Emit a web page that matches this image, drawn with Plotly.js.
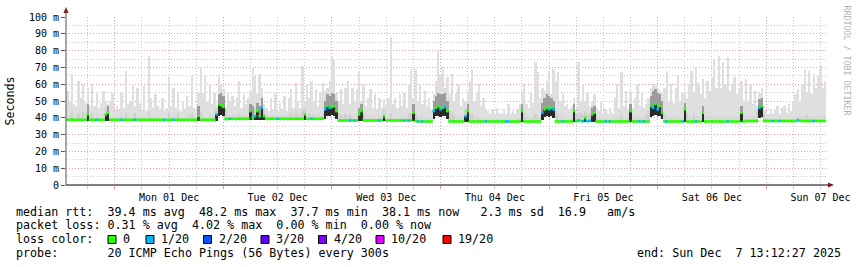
<!DOCTYPE html>
<html><head><meta charset="utf-8">
<script src="https://cdn.plot.ly/plotly-3.0.1.min.js"></script>
<style>html,body{margin:0;padding:0;background:#fff}#chart{width:857px;height:267px}</style>
</head><body><div id="chart"></div>
<script>
// ---- time base (30-minute samples) ----
const firstSampleUTC = [2025, 10, 30, 13, 30]; // 2025-11-30 13:30
const stepMinutes = 30;
const rangeStart = '2025-11-30 13:12:27';
const rangeEnd = '2025-12-07 13:12:27';

// ---- median RTT (ms) ----
const medianRtt = [
38.8,38.8,38.8,38.8,38.8,38.8,38.8,38.8,38.8,42,38.8,38.8,
38.8,38.8,38.8,38.8,38.8,42,43,38.8,38.8,38.8,38.8,38.8,
38.8,38.8,38.8,38.8,38.8,38.8,38.8,38.8,38.8,38.8,38.8,38.8,
38.8,38.8,38.8,38.8,38.8,38.8,38.8,38.8,38.8,38.8,38.8,38.8,
38.8,38.8,38.8,38.8,38.8,38.8,38.8,38.8,38.8,38.8,41,38.8,
38.8,38.8,38.8,38.8,38.8,38.8,42,48,47.5,46.5,39.2,39.4,
39.4,39.4,39.4,39.4,39.4,39.4,39.4,39.4,39.4,44,40,41,
44,41,46,41,39.4,39.4,39.4,39.4,39.4,39.4,39.4,39.4,
39.4,39.4,39.4,39.4,39.4,39.4,39.4,39.4,39.4,42,39.4,39.4,
39.4,39.4,39.4,39.4,39.4,39.4,45,47,46,46.5,47,44,
38.4,38.4,38.4,38.4,38.4,38.4,38.4,38.4,38.4,42,44,38.4,
38.4,38.4,38.4,38.4,38.4,38.4,38.4,38.4,41,38.4,38.4,38.4,
38.4,38.4,38.4,38.4,38.4,38.4,38.4,38.4,38.4,43,38.1,37.8,
37.8,37.8,37.8,37.8,37.8,37.8,44,46,47,45,46,46.5,
44,37.8,37.8,37.8,37.8,37.8,37.8,37.8,41,44,37.8,37.8,
37.8,37.8,37.8,37.8,37.8,37.8,37.8,37.8,37.8,37.8,37.8,37.8,
37.8,37.8,37.8,37.8,37.8,37.8,37.8,37.8,37.8,44,37.8,37.8,
37.8,37.8,37.8,37.8,37.8,37.8,43,45,46,45,46,45,
37.8,37.8,37.8,37.8,37.8,37.8,37.8,37.8,44,38,38.4,38,
38,40,38,38.2,42,43,37.8,37.8,37.8,37.8,37.8,37.8,
37.8,37.8,37.8,37.8,37.8,37.8,37.8,37.8,37.8,44,37.8,37.8,
37.8,37.8,37.8,37.8,37.8,37.8,47,46,48.2,45,47,43,
37.8,37.8,37.8,37.8,37.8,37.8,37.8,37.8,37.8,45,37.8,37.8,
37.8,37.8,37.8,37.8,37.8,43,37.8,37.8,37.8,37.8,37.8,37.8,
37.8,37.8,37.8,37.8,37.8,37.8,37.8,37.8,37.8,37.8,43,37.8,
38.1,38.1,38.1,38.1,38.1,38.1,46,47,38.1,38.1,38.1,38.1,
38.1,38.1,38.1,38.1,38.1,38.1,38.1,38.1,38.1,38.1,38.1,38.6,
38.1,38.1,38.1,38.1,38.1,38.1,38.1,38.1,38.1,38.1,38.1,38.1
];

// ---- lowest ping of each sample (ms) ----
const rttMin = [
38.3,38.3,38.3,38.3,38.3,38.3,38.3,38.3,38.3,38.3,38.3,38.3,
38.3,38.3,38.3,38.3,38.3,38.3,38.3,38.3,38.3,38.3,38.3,38.3,
38.3,38.3,38.3,38.3,38.3,38.3,38.3,38.3,38.3,38.3,38.3,38.3,
38.3,38.3,38.3,38.3,38.3,38.3,38.3,38.3,38.3,38.3,38.3,38.3,
38.3,38.3,38.3,38.3,38.3,38.3,38.3,38.3,38.3,38.3,38.3,38.3,
38.3,38.3,38.3,38.3,38.3,38.3,38.3,41,41.5,41,38.5,38.9,
38.9,38.9,38.9,38.9,38.9,38.9,38.9,38.9,38.9,38.9,38.9,38.9,
38.9,38.9,38.9,38.9,38.9,38.9,38.9,38.9,38.9,38.9,38.9,38.9,
38.9,38.9,38.9,38.9,38.9,38.9,38.9,38.9,38.9,38.9,38.9,38.9,
38.9,38.9,38.9,38.9,38.9,38.9,39.5,41,41,41.5,41,39,
37.9,37.9,37.9,37.9,37.9,37.9,37.9,37.9,37.9,37.9,37.9,37.9,
37.9,37.9,37.9,37.9,37.9,37.9,37.9,37.9,37.9,37.9,37.9,37.9,
37.9,37.9,37.9,37.9,37.9,37.9,37.9,37.9,37.9,37.9,37.6,37.3,
37.3,37.3,37.3,37.3,37.3,37.3,39,41,41,40.5,41,41,
39,37.3,37.3,37.3,37.3,37.3,37.3,37.3,37.3,37.3,37.3,37.3,
37.3,37.3,37.3,37.3,37.3,37.3,37.3,37.3,37.3,37.3,37.3,37.3,
37.3,37.3,37.3,37.3,37.3,37.3,37.3,37.3,37.3,37.3,37.3,37.3,
37.3,37.3,37.3,37.3,37.3,37.3,38.5,40.5,41,40.5,41,40,
37.3,37.3,37.3,37.3,37.3,37.3,37.3,37.3,37.3,37.3,37.3,37.3,
37.3,37.3,37.3,37.3,37.3,37.3,37.3,37.3,37.3,37.3,37.3,37.3,
37.3,37.3,37.3,37.3,37.3,37.3,37.3,37.3,37.3,37.3,37.3,37.3,
37.3,37.3,37.3,37.3,37.3,37.3,40.5,41,41.5,41,41,39,
37.3,37.3,37.3,37.3,37.3,37.3,37.3,37.3,37.3,37.3,37.3,37.3,
37.3,37.3,37.3,37.3,37.3,37.3,37.3,37.3,37.3,37.3,37.3,37.3,
37.3,37.3,37.3,37.3,37.3,37.3,37.3,37.3,37.3,37.3,37.3,37.3,
37.6,37.6,37.6,37.6,37.6,37.6,40,40.5,37.6,37.6,37.6,37.6,
37.6,37.6,37.6,37.6,37.6,37.6,37.6,37.6,37.6,37.6,37.6,37.6,
37.6,37.6,37.6,37.6,37.6,37.6,37.6,37.6,37.6,37.6,37.6,37.6
];

// ---- dense-smoke upper edge (ms) ----
const rttMid = [
41,42,44,41,40,43,42,44,41,48,42,43,
41,42,41,40,42,46,47,41,40,41,40,40,
41,40,43,41,40,42,43,41,42,40,41,40,
44,41,40,40,41,40,40,40,40,43,41,40,
41,43,40,40,40,41,42,43,41,40,47,44,
42,41,40,42,41,41,46,54,55,53,45,42,
42,41,42,41,43,42,41,42,41,48,47,46,
49,47,52,46,42,41,41,42,41,41,41,41,
42,41,42,43,42,44,42,42,45,46,42,43,
42,42,41,42,41,43,50,54,53,55,54,50,
43,42,41,42,41,42,41,40,41,46,48,42,
41,40,41,40,41,40,41,40,45,41,40,43,
40,40,40,41,40,41,41,43,43,48,42,41,
41,40,40,40,40,41,50,53,55,54,54,55,
50,44,43,42,41,41,40,41,45,48,43,42,
41,41,40,40,39,39,39,39,39,39,39,39,
39,39,39,39,39,39,39,40,40,48,43,41,
41,40,41,42,41,41,49,52,54,53,52,50,
44,42,41,40,40,39,39,40,48,43,42,43,
42,44,42,42,46,47,41,40,39,39,39,39,
39,39,40,41,40,42,40,41,40,48,41,41,
41,40,41,40,42,44,53,56,57,55,54,50,
42,41,41,41,40,41,41,41,40,49,43,41,
41,42,41,41,41,47,41,41,41,41,41,41,
41,41,41,41,41,41,41,41,41,41,47,41,
41,41,41,41,41,44,51,52,42,40,39,39,
39,39,39,39,39,39,39,39,39,40,40,41,
41,41,41,42,41,41,41,41,41,41,41,41
];

// ---- highest ping of each sample (ms) ----
const rttMax = [
56,50,66,48,47,62,52,60,49,58,47,60,
47,55,46,49,56,50,48,50,55,44,47,45,
55,46,68,48,50,59,47,58,49,45,59,44,
77,52,46,54,47,45,52,44,46,64,47,58,
46,55,44,50,45,53,47,65,46,44,55,70,
55,65,50,60,48,55,47,66,60,57,46,55,
50,53,47,52,62,46,54,48,52,56,70,65,
55,66,58,48,46,44,52,45,55,44,49,45,
53,44,52,57,46,61,50,46,71,50,60,52,
62,50,57,47,55,61,56,58,62,77,75,55,
50,57,48,58,62,48,58,50,57,68,50,60,
47,52,57,46,54,45,52,46,51,47,52,88,
48,52,46,54,47,55,46,60,69,52,69,50,
60,48,56,47,52,45,54,62,80,66,70,58,
64,54,66,50,55,60,47,52,50,56,62,69,
50,55,60,47,52,45,44,42,45,42,46,43,
42,45,42,48,43,44,42,45,48,56,60,48,
46,55,49,73,67,52,58,56,62,68,54,69,
62,67,50,55,47,48,45,47,52,44,73,50,
60,50,55,47,50,54,46,44,50,42,45,42,
46,43,52,60,46,67,47,56,45,56,46,52,
60,47,55,46,48,52,58,60,59,58,56,55,
58,68,50,60,49,58,65,50,55,56,52,60,
68,55,70,61,54,63,52,62,56,64,75,58,
77,58,73,60,76,56,60,64,54,58,62,50,
63,50,60,48,56,47,55,58,47,44,42,45,
42,45,47,42,46,47,43,48,44,50,54,57,
50,60,69,55,68,54,66,58,65,71,58,62
];

// ---- lost pings (out of 20) per sample ----
const lossCount = [
0,0,0,0,0,0,0,0,0,0,0,0,
0,1,0,0,0,0,0,0,0,0,0,0,
1,0,0,0,0,0,1,0,0,0,0,0,
0,0,0,0,0,0,0,1,0,0,0,1,
0,0,0,0,0,0,0,0,0,0,0,0,
0,0,0,0,0,0,1,0,0,0,0,0,
1,0,0,0,0,0,0,0,0,0,0,1,
0,0,1,0,0,0,0,0,0,1,0,0,
0,0,0,0,0,0,0,0,0,0,0,0,
1,0,0,0,0,0,1,0,1,0,0,0,
0,0,0,0,0,1,0,1,0,0,0,0,
0,0,0,0,0,0,1,0,0,0,0,0,
0,0,0,0,0,1,0,1,0,0,0,1,
0,1,0,0,0,0,1,0,0,1,0,1,
0,0,0,0,0,0,0,0,1,0,0,0,
0,0,0,0,0,1,0,0,0,0,0,0,
0,0,1,1,0,0,0,0,0,0,0,0,
0,0,0,0,0,0,1,0,0,1,0,1,
0,0,0,1,0,0,0,0,0,0,1,0,
1,0,1,1,0,0,0,0,0,0,1,0,
1,0,0,0,0,0,0,0,0,0,0,0,
0,1,0,1,0,0,0,1,0,1,0,0,
0,1,0,0,0,0,0,0,1,0,0,0,
0,0,1,0,0,0,0,0,0,0,0,0,
0,0,0,0,1,0,0,0,0,0,0,0,
0,0,0,0,0,0,1,0,0,0,0,0,
1,0,0,1,0,0,0,0,0,0,0,1,
0,0,0,0,0,0,1,0,0,0,0,0
];

// ---- axis / legend text ----
const yTickVals = [0,10,20,30,40,50,60,70,80,90,100];
const yTickText = ['0','10 m','20 m','30 m','40 m','50 m','60 m','70 m','80 m','90 m','100 m'];
const lossSteps = [0,1,2,3,4,10,19];
const lossLabels = ['0','1/20','2/20','3/20','4/20','10/20','19/20'];
const lossColors = ['#26ff00','#00b8ff','#0059ff','#5e00ff','#7e00ff','#dd00ff','#ff0000'];
const statLines = [
  'median rtt:  39.4 ms avg  48.2 ms max  37.7 ms min  38.1 ms now   2.3 ms sd  16.9   am/s',
  'packet loss: 0.31 % avg  4.02 % max  0.00 % min  0.00 % now'
];
const lossTitle = 'loss color:';
const probeLine = 'probe:       20 ICMP Echo Pings (56 Bytes) every 300s';
const endLine = 'end: Sun Dec  7 13:12:27 2025';
const yTitle = 'Seconds';
const watermark = 'RRDTOOL / TOBI OETIKER';

// ---- build ----
const FONT = 'DejaVu Sans Mono';
const pad2 = n => String(n).padStart(2,'0');
const t0 = Date.UTC(...firstSampleUTC);
const fmt = ms => { const d = new Date(ms); return d.getUTCFullYear()+'-'+pad2(d.getUTCMonth()+1)+'-'+pad2(d.getUTCDate())+' '+pad2(d.getUTCHours())+':'+pad2(d.getUTCMinutes())+':00'; };
const times = medianRtt.map((_, i) => fmt(t0 + i*stepMinutes*60000));
const barW = stepMinutes*60000*1.04;

const lightH = rttMax.map((v,i) => v - rttMin[i]);
const midH = rttMid.map((v,i) => v - rttMin[i]);
const midCol = midH.map(s => s > 8 ? '#9c9c9c' : (s > 4 ? '#d0d0d0' : '#d8d8d8'));
const darkH = medianRtt.map((m,i) => (m - rttMin[i] > 2) ? m - rttMin[i] : null);
const colorForLoss = n => { let c = lossColors[0]; lossSteps.forEach((s,k) => { if (n >= s) c = lossColors[k]; }); return c; };
const medCol = lossCount.map(colorForLoss);

const traces = [
  {type:'bar', x:times, base:rttMin, y:lightH, width:barW, marker:{color:'#dfdfdf', line:{width:0}}, hoverinfo:'skip'},
  {type:'bar', x:times, base:rttMin, y:midH, width:barW, marker:{color:midCol, line:{width:0}}, hoverinfo:'skip'},
  {type:'bar', x:times, base:rttMin, y:darkH, width:barW, marker:{color:'#2a2a2a', line:{width:0}}, hoverinfo:'skip'},
  {type:'scatter', mode:'markers', x:times, y:medianRtt, marker:{symbol:'square', size:2.6, color:medCol, line:{width:0}}, hoverinfo:'skip'}
];

// pixel -> paper helpers (plot area x 66..826, y 17..185)
const L = 66, W = 760, B = 185, H = 168;
const px = v => (v - L) / W;
const py = v => (B - v) / H;
const nb = s => s.replace(/ /g, '\u00a0');

const shapes = [
  {type:'line', xref:'paper', yref:'paper', x0:0, x1:px(829), y0:0, y1:0, line:{color:'#000', width:1}},
  {type:'path', xref:'paper', yref:'paper', path:`M ${px(828)} ${py(182.5)} L ${px(834)} ${py(185)} L ${px(828)} ${py(187.5)} Z`, fillcolor:'#7f1a1a', line:{width:0}},
  {type:'line', xref:'paper', yref:'paper', x0:0, x1:0, y0:0, y1:py(12), line:{color:'#555', width:1}},
  {type:'path', xref:'paper', yref:'paper', path:`M ${px(63.5)} ${py(13)} L ${px(66)} ${py(7)} L ${px(68.5)} ${py(13)} Z`, fillcolor:'#7f1a1a', line:{width:0}}
];
const boxLeft = [108,146,203.5,261,318.5,376,443];
const annotations = [];
const txt = (text, x, y, extra) => Object.assign({xref:'paper', yref:'paper', x:px(x), y:py(y), text:nb(text), showarrow:false, xanchor:'left', yanchor:'middle', borderpad:0, borderwidth:0, font:{family:FONT, size:11.7, color:'#000'}}, extra||{});
annotations.push(txt(statLines[0], 16, 211.7));
annotations.push(txt(statLines[1], 16, 225.2));
annotations.push(txt(lossTitle, 16, 239.2));
lossLabels.forEach((lab,k) => {
  shapes.push({type:'rect', xref:'paper', yref:'paper', x0:px(boxLeft[k]), x1:px(boxLeft[k]+8), y0:py(243.5), y1:py(235.5), fillcolor:lossColors[k], line:{color:'#000', width:1}});
  annotations.push(txt(lab, boxLeft[k]+15, 239.2));
});
annotations.push(txt(probeLine, 16, 252.7));
annotations.push(txt(endLine, 841, 252.7, {xanchor:'right'}));
annotations.push({xref:'paper', yref:'paper', x:px(846.5), y:py(60), text:watermark, showarrow:false, textangle:90, xanchor:'center', yanchor:'middle', font:{family:FONT, size:8.3, color:'#b2b2b2'}});

const layout = {
  width:857, height:267,
  margin:{l:L, r:857-L-W, t:17, b:267-B, pad:0},
  paper_bgcolor:'#ffffff', plot_bgcolor:'#ffffff',
  font:{family:FONT, size:10, color:'#000'},
  showlegend:false, barmode:'overlay', bargap:0,
  xaxis:{type:'date', range:[rangeStart, rangeEnd], tick0:'2025-12-01', dtick:86400000, ticklabelmode:'period', tickformat:'%a %d %b',
    ticks:'outside', ticklen:3, tickcolor:'#e09a9a', showgrid:true, gridcolor:'#e8a0a0', griddash:'1px,2px', gridwidth:1,
    showline:false, zeroline:false, fixedrange:true, tickfont:{family:FONT, size:10, color:'#000'},
    minor:{dtick:21600000, tick0:'2025-12-01', showgrid:true, gridcolor:'#c6c6c6', griddash:'1px,2px', ticks:'outside', ticklen:3, tickcolor:'#c6c6c6'}},
  yaxis:{range:[0,100], tickmode:'array', tickvals:yTickVals, ticktext:yTickText, ticks:'outside', ticklen:4, tickcolor:'#555',
    showgrid:true, gridcolor:'#e8a0a0', griddash:'1px,2px', zeroline:false, showline:false, fixedrange:true,
    tickfont:{family:FONT, size:10, color:'#000'},
    minor:{dtick:5, tick0:0, showgrid:true, gridcolor:'#c6c6c6', griddash:'1px,2px'},
    title:{text:yTitle, font:{family:FONT, size:11.7, color:'#000'}, standoff:11}},
  shapes, annotations
};
Plotly.newPlot('chart', traces, layout, {displayModeBar:false, staticPlot:true});
</script></body></html>
